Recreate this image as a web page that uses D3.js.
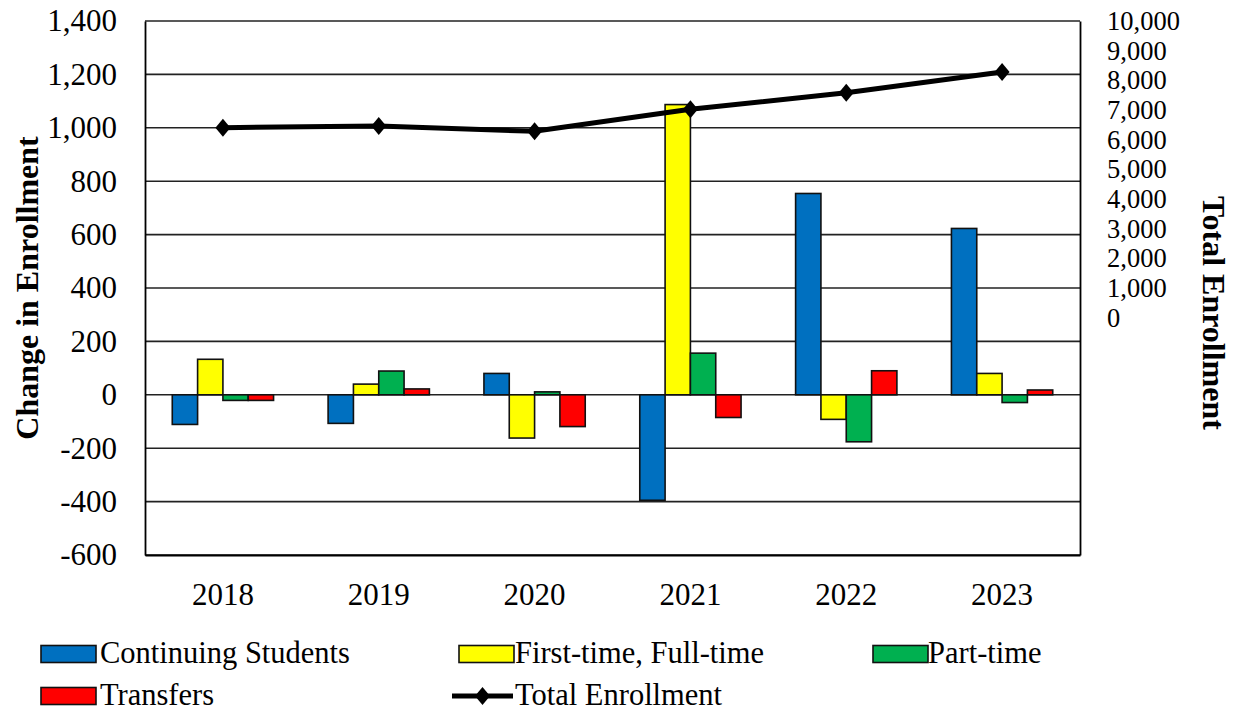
<!DOCTYPE html>
<html><head><meta charset="utf-8">
<script src="https://cdn.jsdelivr.net/npm/d3@7"></script>
<style>
body{margin:0;background:#fff;}
svg text{font-family:"Liberation Serif","Times New Roman","DejaVu Serif",serif !important;fill:#000;}
</style></head>
<body><svg id="c" width="1234" height="712"></svg>
<script>
const years = ["2018","2019","2020","2021","2022","2023"];
const continuing = [-111, -107, 80, -395, 754, 623];
const firstTime = [133, 40, -162, 1087, -92, 80];
const partTime = [-21, 89, 11, 156, -176, -29];
const transfers = [-21, 22, -119, -85, 90, 18];
const totalEnrollment = [6404, 6461, 6282, 7024, 7583, 8281];
const leftTicks = [-600,-400,-200,0,200,400,600,800,1000,1200,1400];
const rightTicks = [0,1000,2000,3000,4000,5000,6000,7000,8000,9000,10000];

const series = [
  {name:"Continuing Students", values:continuing, color:"#0070C0"},
  {name:"First-time, Full-time", values:firstTime, color:"#FFFF00"},
  {name:"Part-time", values:partTime, color:"#00B050"},
  {name:"Transfers", values:transfers, color:"#FF0000"}
];

const svg = d3.select("#c");
const L = 145, R = 1080, T = 21, B = 555;
const fmt = d => d3.format(",")(d).replace("\u2212", "-");

const x0 = d3.scaleBand().domain(years).range([L, R]).padding(0);
const groupW = x0.bandwidth() * 0.65;
const x1 = d3.scaleBand().domain(series.map(s=>s.name)).range([0, groupW]).padding(0);
const y = d3.scaleLinear().domain([-600, 1400]).range([B, T]);
const y2 = d3.scaleLinear().domain([-8000, 10000]).range([B, T]);

// gridlines
svg.append("g").selectAll("line").data(leftTicks).join("line")
  .attr("x1", L).attr("x2", R).attr("y1", d=>y(d)).attr("y2", d=>y(d))
  .attr("stroke", "#222").attr("stroke-width", 1.6);

// left axis
const ga = svg.append("g").attr("transform", `translate(${L},0)`)
  .call(d3.axisLeft(y).tickValues(leftTicks).tickSize(0).tickPadding(28).tickFormat(fmt));
ga.select(".domain").attr("stroke","#000").attr("stroke-width",1.8);
ga.selectAll("text").attr("font-size", 31);

// right axis
const gr = svg.append("g").attr("transform", `translate(${R},0)`)
  .call(d3.axisRight(y2).tickValues(rightTicks).tickSize(0).tickPadding(27).tickFormat(fmt));
gr.select(".domain").attr("stroke","#000").attr("stroke-width",1.8);
gr.selectAll("text").attr("font-size", 26.5);

// bottom axis
const gb = svg.append("g").attr("transform", `translate(0,${B})`)
  .call(d3.axisBottom(x0).tickSize(0).tickPadding(28));
gb.select(".domain").attr("stroke","#000").attr("stroke-width",2);
gb.selectAll("text").attr("font-size", 31);

// bars
const groups = svg.append("g").selectAll("g").data(years).join("g")
  .attr("transform", d => `translate(${x0(d) + (x0.bandwidth()-groupW)/2},0)`);
groups.selectAll("rect").data((d,i) => series.map(s => ({s, v:s.values[i]}))).join("rect")
  .attr("x", d => x1(d.s.name))
  .attr("width", x1.bandwidth())
  .attr("y", d => y(Math.max(0, d.v)))
  .attr("height", d => Math.abs(y(d.v) - y(0)))
  .attr("fill", d => d.s.color)
  .attr("stroke", "#111").attr("stroke-width", 1.6);

// line
const cx = d => x0(d) + x0.bandwidth()/2;
const line = d3.line().x((d,i)=>cx(years[i])).y(d=>y2(d));
svg.append("path").datum(totalEnrollment).attr("d", line)
  .attr("fill","none").attr("stroke","#000").attr("stroke-width",5);
const diamond = (w,h) => `M0,${-h/2}L${w/2},0L0,${h/2}L${-w/2},0Z`;
svg.append("g").selectAll("path").data(totalEnrollment).join("path")
  .attr("transform",(d,i)=>`translate(${cx(years[i])},${y2(d)})`)
  .attr("d", diamond(15,18)).attr("fill","#000");

// axis titles
svg.append("text").attr("transform", `translate(38,${(T+B)/2}) rotate(-90)`)
  .attr("text-anchor","middle").attr("font-size",32).attr("font-weight","bold").text("Change in Enrollment");
svg.append("text").attr("transform", `translate(1203,313) rotate(90)`)
  .attr("text-anchor","middle").attr("font-size",32).attr("font-weight","bold").text("Total Enrollment");

// legend
const leg = [
  {type:"rect", s:series[0], x:41, y:654, tx:100},
  {type:"rect", s:series[1], x:459, y:654, tx:515},
  {type:"rect", s:series[2], x:873, y:654, tx:928},
  {type:"rect", s:series[3], x:41, y:696, tx:100},
  {type:"line", s:{name:"Total Enrollment"}, x:452, y:696, tx:515}
];
const lg = svg.append("g");
leg.forEach(d => {
  if (d.type === "rect") {
    lg.append("rect").attr("x", d.x).attr("y", d.y - 8.5).attr("width", 55).attr("height", 17)
      .attr("fill", d.s.color).attr("stroke","#111").attr("stroke-width",1.6);
  } else {
    lg.append("line").attr("x1", d.x).attr("x2", d.x+61).attr("y1", d.y).attr("y2", d.y)
      .attr("stroke","#000").attr("stroke-width",5);
    lg.append("path").attr("transform",`translate(${d.x+30.5},${d.y})`).attr("d", diamond(15,18)).attr("fill","#000");
  }
  lg.append("text").attr("x", d.tx).attr("y", d.y + 9).attr("font-size", 30.5).text(d.s.name);
});
</script></body></html>
